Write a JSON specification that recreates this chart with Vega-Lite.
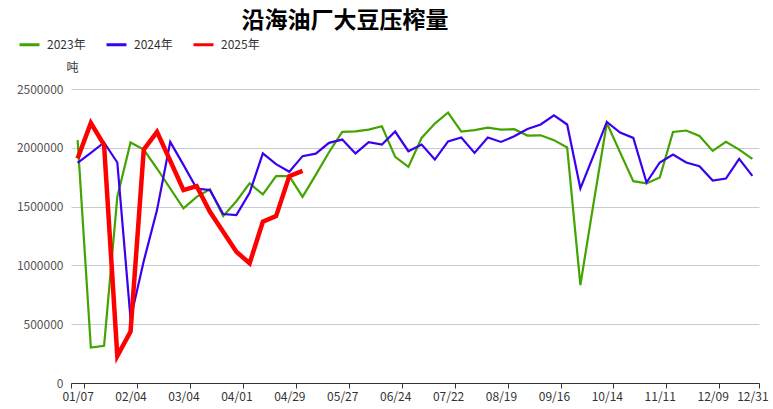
{
  "$schema": "https://vega.github.io/schema/vega-lite/v6.json",
  "width": 688,
  "height": 294,
  "autosize": {"type": "none"},
  "padding": {"left": 71, "top": 89, "right": 14, "bottom": 26},
  "background": "white",
  "title": {"text": "沿海油厂大豆压榨量", "font": "Noto Sans CJK SC", "fontSize": 23, "fontWeight": "bold", "color": "#000000", "anchor": "middle", "frame": "group", "dx": -70, "offset": 8, "dy": 8},
  "config": {"view": {"stroke": null}, "font": "Noto Sans CJK SC"},
  "data": {"values": [
    {"w":"01/07","y":"2023年","v":2065000},{"w":"01/14","y":"2023年","v":301000},{"w":"01/21","y":"2023年","v":316000},{"w":"01/28","y":"2023年","v":1583000},
    {"w":"02/04","y":"2023年","v":2045000},{"w":"02/11","y":"2023年","v":1985000},{"w":"02/18","y":"2023年","v":1824000},{"w":"02/25","y":"2023年","v":1654000},
    {"w":"03/04","y":"2023年","v":1485000},{"w":"03/11","y":"2023年","v":1583000},{"w":"03/18","y":"2023年","v":1648000},{"w":"03/25","y":"2023年","v":1419000},
    {"w":"04/01","y":"2023年","v":1546000},{"w":"04/08","y":"2023年","v":1697000},{"w":"04/15","y":"2023年","v":1604000},{"w":"04/22","y":"2023年","v":1759000},
    {"w":"04/29","y":"2023年","v":1759000},{"w":"05/06","y":"2023年","v":1583000},{"w":"05/13","y":"2023年","v":1770000},{"w":"05/20","y":"2023年","v":1962000},
    {"w":"05/27","y":"2023年","v":2135000},{"w":"06/03","y":"2023年","v":2140000},{"w":"06/10","y":"2023年","v":2155000},{"w":"06/17","y":"2023年","v":2183000},
    {"w":"06/24","y":"2023年","v":1923000},{"w":"07/01","y":"2023年","v":1838000},{"w":"07/08","y":"2023年","v":2084000},{"w":"07/15","y":"2023年","v":2206000},
    {"w":"07/22","y":"2023年","v":2300000},{"w":"07/29","y":"2023年","v":2138000},{"w":"08/05","y":"2023年","v":2150000},{"w":"08/12","y":"2023年","v":2172000},
    {"w":"08/19","y":"2023年","v":2155000},{"w":"08/26","y":"2023年","v":2158000},{"w":"09/02","y":"2023年","v":2104000},{"w":"09/09","y":"2023年","v":2106000},
    {"w":"09/16","y":"2023年","v":2065000},{"w":"09/23","y":"2023年","v":2003000},{"w":"09/30","y":"2023年","v":833000},{"w":"10/07","y":"2023年","v":1532000},
    {"w":"10/14","y":"2023年","v":2211000},{"w":"10/21","y":"2023年","v":1961000},{"w":"10/28","y":"2023年","v":1716000},{"w":"11/04","y":"2023年","v":1697000},
    {"w":"11/11","y":"2023年","v":1748000},{"w":"11/18","y":"2023年","v":2135000},{"w":"11/25","y":"2023年","v":2147000},{"w":"12/02","y":"2023年","v":2101000},
    {"w":"12/09","y":"2023年","v":1974000},{"w":"12/16","y":"2023年","v":2050000},{"w":"12/23","y":"2023年","v":1985000},{"w":"12/31","y":"2023年","v":1906000},

    {"w":"01/07","y":"2024年","v":1872000},{"w":"01/14","y":"2024年","v":1957000},{"w":"01/21","y":"2024年","v":2045000},{"w":"01/28","y":"2024年","v":1875000},
    {"w":"02/04","y":"2024年","v":545000},{"w":"02/11","y":"2024年","v":1037000},{"w":"02/18","y":"2024年","v":1470000},{"w":"02/25","y":"2024年","v":2050000},
    {"w":"03/04","y":"2024年","v":1855000},{"w":"03/11","y":"2024年","v":1654000},{"w":"03/18","y":"2024年","v":1640000},{"w":"03/25","y":"2024年","v":1437000},
    {"w":"04/01","y":"2024年","v":1428000},{"w":"04/08","y":"2024年","v":1617000},{"w":"04/15","y":"2024年","v":1952000},{"w":"04/22","y":"2024年","v":1861000},
    {"w":"04/29","y":"2024年","v":1796000},{"w":"05/06","y":"2024年","v":1929000},{"w":"05/13","y":"2024年","v":1950000},{"w":"05/20","y":"2024年","v":2042000},
    {"w":"05/27","y":"2024年","v":2070000},{"w":"06/03","y":"2024年","v":1952000},{"w":"06/10","y":"2024年","v":2048000},{"w":"06/17","y":"2024年","v":2028000},
    {"w":"06/24","y":"2024年","v":2138000},{"w":"07/01","y":"2024年","v":1971000},{"w":"07/08","y":"2024年","v":2028000},{"w":"07/15","y":"2024年","v":1900000},
    {"w":"07/22","y":"2024年","v":2054000},{"w":"07/29","y":"2024年","v":2087000},{"w":"08/05","y":"2024年","v":1957000},{"w":"08/12","y":"2024年","v":2087000},
    {"w":"08/19","y":"2024年","v":2050000},{"w":"08/26","y":"2024年","v":2098000},{"w":"09/02","y":"2024年","v":2160000},{"w":"09/09","y":"2024年","v":2198000},
    {"w":"09/16","y":"2024年","v":2277000},{"w":"09/23","y":"2024年","v":2198000},{"w":"09/30","y":"2024年","v":1654000},{"w":"10/07","y":"2024年","v":1936000},
    {"w":"10/14","y":"2024年","v":2220000},{"w":"10/21","y":"2024年","v":2130000},{"w":"10/28","y":"2024年","v":2084000},{"w":"11/04","y":"2024年","v":1705000},
    {"w":"11/11","y":"2024年","v":1875000},{"w":"11/18","y":"2024年","v":1943000},{"w":"11/25","y":"2024年","v":1875000},{"w":"12/02","y":"2024年","v":1844000},
    {"w":"12/09","y":"2024年","v":1722000},{"w":"12/16","y":"2024年","v":1739000},{"w":"12/23","y":"2024年","v":1906000},{"w":"12/31","y":"2024年","v":1761000},

    {"w":"01/07","y":"2025年","v":1909000},{"w":"01/14","y":"2025年","v":2211000},{"w":"01/21","y":"2025年","v":2025000},{"w":"01/28","y":"2025年","v":230000},
    {"w":"02/04","y":"2025年","v":437000},{"w":"02/11","y":"2025年","v":1985000},{"w":"02/18","y":"2025年","v":2135000},{"w":"02/25","y":"2025年","v":1890000},
    {"w":"03/04","y":"2025年","v":1640000},{"w":"03/11","y":"2025年","v":1674000},{"w":"03/18","y":"2025年","v":1456000},{"w":"03/25","y":"2025年","v":1286000},
    {"w":"04/01","y":"2025年","v":1116000},{"w":"04/08","y":"2025年","v":1018000},{"w":"04/15","y":"2025年","v":1371000},{"w":"04/22","y":"2025年","v":1419000},
    {"w":"04/29","y":"2025年","v":1759000},{"w":"05/06","y":"2025年","v":1804000}
  ]},
  "encoding": {
    "x": {
      "field": "w", "type": "ordinal", "sort": null,
      "scale": {"type": "band", "paddingInner": 0, "paddingOuter": 0},
      "axis": {
        "title": null,
        "values": ["01/07","02/04","03/04","04/01","04/29","05/27","06/24","07/22","08/19","09/16","10/14","11/11","12/09","12/31"],
        "labelAngle": 0, "labelFontSize": 12, "labelColor": "#333333", "labelPadding": 3,
        "tickBand": "extent", "tickSize": 5, "tickColor": "#333333",
        "domainColor": "#333333", "grid": false
      }
    },
    "y": {
      "field": "v", "type": "quantitative",
      "scale": {"domain": [0, 2500000], "nice": false},
      "axis": {
        "values": [0, 500000, 1000000, 1500000, 2000000, 2500000], "format": "d",
        "title": "吨", "titleAngle": 0, "titleX": 1, "titleY": -22, "titleAlign": "center", "titleBaseline": "middle",
        "titleFontSize": 12, "titleFontWeight": "normal", "titleColor": "#333333",
        "labelFontSize": 12, "labelColor": "#555555", "labelPadding": 8,
        "domain": false, "ticks": false, "grid": true, "gridColor": "#c8cad8", "gridWidth": 1
      }
    },
    "color": {
      "field": "y", "type": "nominal",
      "scale": {"domain": ["2023年", "2024年", "2025年"], "range": ["#43a300", "#3a00f0", "#ff0000"]},
      "legend": {"title": null, "orient": "none", "direction": "horizontal", "legendX": -53, "legendY": -56, "labelFontSize": 12, "labelColor": "#333333", "symbolType": "stroke", "symbolSize": 400, "symbolStrokeWidth": 3, "columnPadding": 14, "labelOffset": 6}
    }
  },
  "layer": [
    {"transform": [{"filter": "datum.y !== '2025年'"}], "mark": {"type": "line", "strokeWidth": 2.2, "strokeJoin": "miter"}},
    {"transform": [{"filter": "datum.y === '2025年'"}], "mark": {"type": "line", "strokeWidth": 4.5, "strokeJoin": "miter"}}
  ]
}
